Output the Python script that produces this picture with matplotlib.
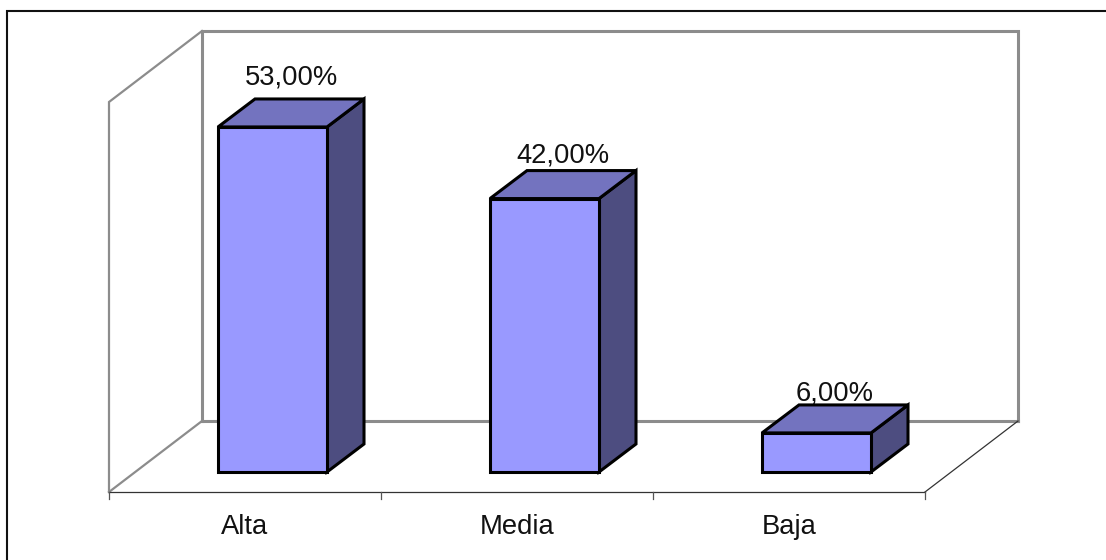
import matplotlib
matplotlib.use("Agg")
import matplotlib.pyplot as plt
from matplotlib.patches import Polygon, Rectangle

categories = ["Alta", "Media", "Baja"]
values = [53, 42, 6]
value_labels = ["53,00%", "42,00%", "6,00%"]

plt.rcParams["font.family"] = ["Liberation Sans", "DejaVu Sans"]

FRONT = "#9999FF"
TOP = "#7373BF"
SIDE = "#4D4D80"
WALL = "#8C8C8C"
INK = "#111111"

# one category is 272 px wide, one percent is 6.51 px high
PX_X = 272.0
PX_Y = 6.51
W, H = 1106, 560
X0, Y0 = 109, 472

fig = plt.figure(figsize=(W / 100, H / 100), dpi=100)
ax = fig.add_axes([0, 0, 1, 1])
ax.set_xlim(-X0 / PX_X, (W - X0) / PX_X)
ax.set_ylim((Y0 - H) / PX_Y, Y0 / PX_Y)
ax.axis("off")


def dx(px):
    return px / PX_X


def dy(px):
    return px / PX_Y


# depth of the bars and of the whole box
bar_dx, bar_dy = dx(37), dy(28)
box_dx, box_dy = dx(93), dy(71)
floor_y = dy(-20)
wall_top = dy(390)
bar_w = dx(109)
n = len(categories)

# frame is only open at right and bottom, runs off the image
ax.plot([dx(7 - X0), dx(7 - X0), dx(W - X0)],
        [dy(Y0 - H), dy(Y0 - 10.5), dy(Y0 - 10.5)],
        color=INK, lw=1.5, solid_joinstyle="miter", zorder=1)

# back wall, left wall
ax.plot([box_dx, box_dx, box_dx + n, box_dx + n],
        [floor_y + box_dy, floor_y + box_dy + wall_top, floor_y + box_dy + wall_top, floor_y + box_dy],
        color=WALL, lw=2.2, solid_joinstyle="miter", zorder=1)
ax.plot([box_dx, n + box_dx], [floor_y + box_dy, floor_y + box_dy],
        color=WALL, lw=2.2, zorder=1)
ax.plot([0, 0, box_dx], [floor_y, floor_y + wall_top, floor_y + box_dy + wall_top],
        color=WALL, lw=1.6, solid_joinstyle="miter", zorder=1)
ax.plot([0, box_dx], [floor_y, floor_y + box_dy], color=WALL, lw=1.6, zorder=1)

# floor front edge, ticks and the right floor edge
ax.plot([0, n], [floor_y, floor_y], color="#333333", lw=0.9, zorder=1)
ax.plot([n, n + box_dx], [floor_y, floor_y + box_dy], color="#333333", lw=0.9, zorder=1)
for i in range(n + 1):
    ax.plot([i, i], [floor_y, floor_y - dy(7)], color="#555555", lw=0.9, zorder=1)

label_gap = [14, 8, 4]

for i, (cat, val, txt) in enumerate(zip(categories, values, value_labels)):
    x = i + dx(109)
    x2 = x + bar_w

    ax.add_patch(Polygon([(x2, 0), (x2 + bar_dx, bar_dy), (x2 + bar_dx, val + bar_dy), (x2, val)],
                         fc=SIDE, ec="black", lw=2.2, joinstyle="miter", zorder=3))
    ax.add_patch(Polygon([(x, val), (x + bar_dx, val + bar_dy), (x2 + bar_dx, val + bar_dy), (x2, val)],
                         fc=TOP, ec="black", lw=2.2, joinstyle="miter", zorder=3))
    ax.add_patch(Rectangle((x, 0), bar_w, val, fc=FRONT, ec="black", lw=2.2,
                           joinstyle="miter", zorder=4))

    ax.text(x + bar_w / 2 + bar_dx / 2, val + bar_dy + dy(label_gap[i]), txt,
            ha="center", va="baseline", fontsize=19.7, color=INK, zorder=2 if i == 2 else 5)
    ax.text(i + 0.5, floor_y - dy(42), cat, ha="center", va="baseline",
            fontsize=19.7, color=INK)

fig.savefig("out.png", dpi=100, facecolor="white")
